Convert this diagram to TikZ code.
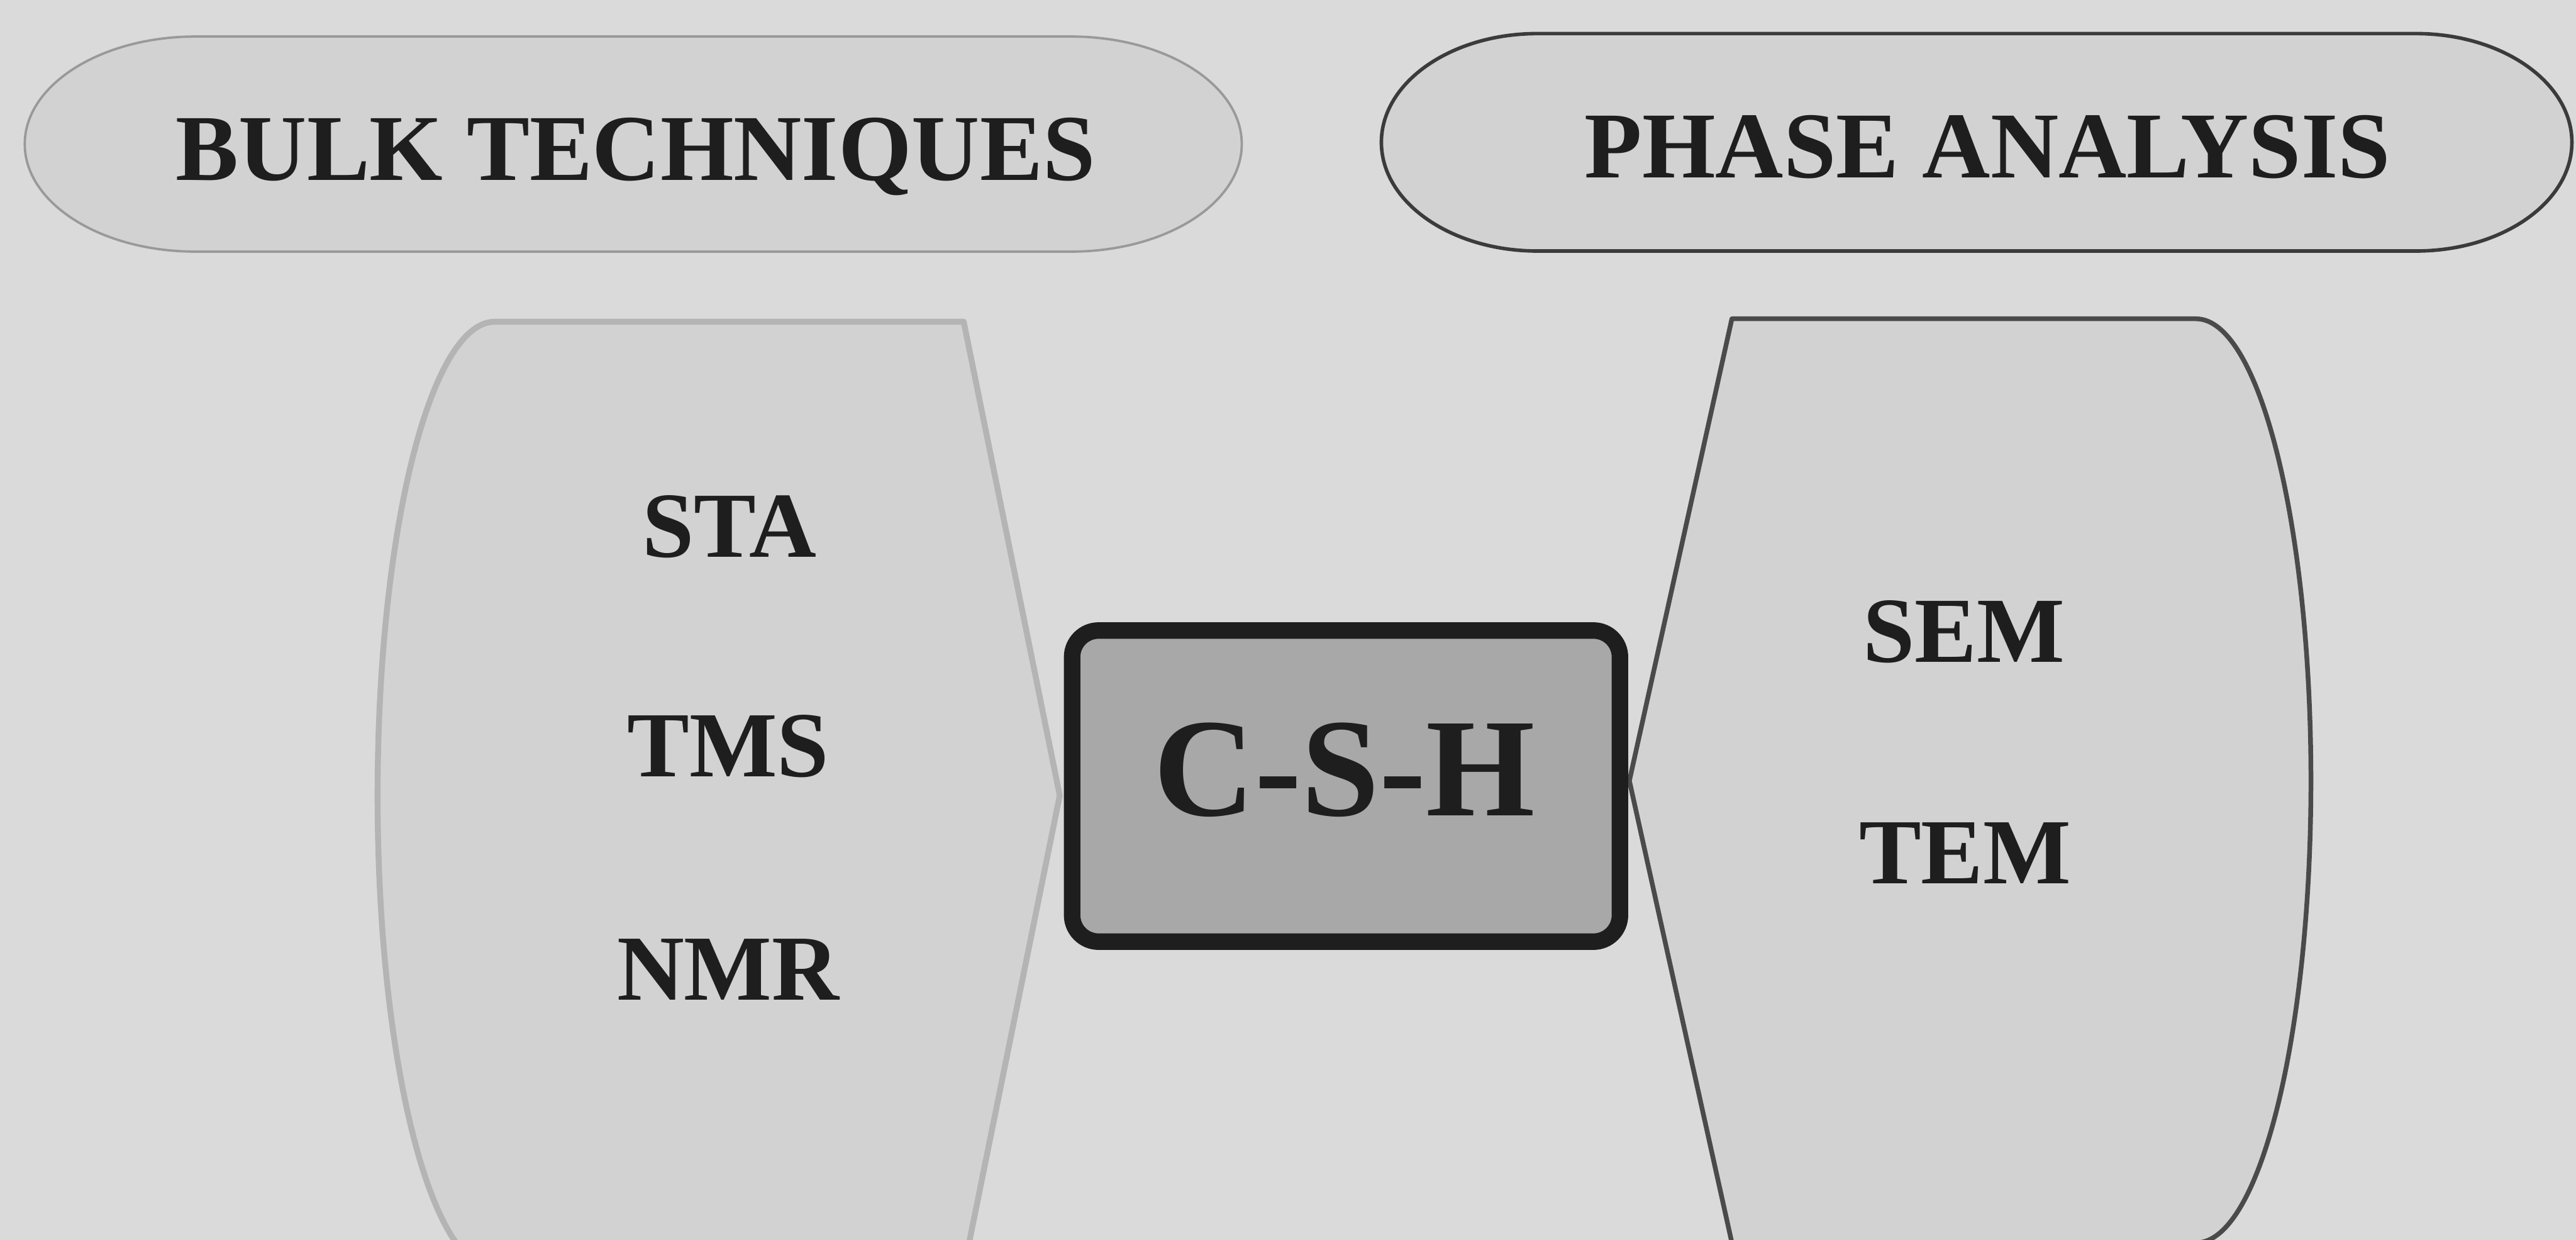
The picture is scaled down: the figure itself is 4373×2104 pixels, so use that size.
\documentclass[tikz,border=0pt]{standalone}
\usepackage{fontspec}
\setmainfont{Liberation Serif}
\definecolor{bgc}{HTML}{DADADA}
\definecolor{fillc}{HTML}{D2D2D2}
\definecolor{lightedge}{HTML}{B4B4B4}
\definecolor{darkedge}{HTML}{4A4A4A}
\definecolor{cshfill}{HTML}{A8A8A8}
\definecolor{inkc}{HTML}{1E1E1E}
\tikzset{
  headtext/.style={inner sep=0pt, anchor=base, text=inkc, font=\bfseries\fontsize{32}{38}\selectfont},
  itemtext/.style={inner sep=0pt, anchor=base, text=inkc, font=\bfseries\fontsize{31.6}{38}\selectfont},
  bigtext/.style={inner sep=0pt, anchor=base, text=inkc, font=\bfseries\fontsize{47.6}{56}\selectfont},
  lightshape/.style={fill=fillc, draw=lightedge, line width=2pt, line join=round},
  darkshape/.style={fill=fillc, draw=darkedge, line width=1.6pt, line join=round},
  cshbox/.style={draw=inkc, fill=cshfill, line width=5.6pt, rounded corners=9pt,
    minimum width=186pt, minimum height=105.6pt, inner sep=0pt}
}
\begin{document}
\begin{tikzpicture}[x=0.2pt,y=0.2pt]
\useasboundingbox (0,0) rectangle (4373,-2104);
\fill[bgc] (0,0) rectangle (4373,-2104);
\clip (0,0) rectangle (4373,-2104);
% top stadium shapes
\draw[fill=fillc, draw=lightedge!85!black, line width=0.8pt]
  (332,-62) -- (1818,-62) arc[start angle=90, end angle=-90, x radius=290, y radius=182.5]
  -- (332,-427) arc[start angle=270, end angle=90, x radius=290, y radius=182.5] -- cycle;
\draw[fill=fillc, draw=darkedge!80!black, line width=1.2pt]
  (2610,-57) -- (4101,-57) arc[start angle=90, end angle=-90, x radius=265, y radius=184.5]
  -- (2610,-426) arc[start angle=270, end angle=90, x radius=265, y radius=184.5] -- cycle;
\node[headtext] (bulk) at (1079,-306) {BULK TECHNIQUES};
\node[headtext] (phase) at (3374,-302) {PHASE ANALYSIS};
% left display shape
\draw[lightshape]
  (840,-546) -- (1636,-546) -- (1799,-1350) -- (1636,-2154) -- (840,-2154)
  arc[start angle=270, end angle=90, x radius=199, y radius=804] -- cycle;
% right display shape
\draw[darkshape]
  (2940,-541) -- (3728,-541) arc[start angle=90, end angle=-90, x radius=195, y radius=784]
  -- (2940,-2109) -- (2766,-1325) -- cycle;
\node[itemtext] (sta) at (1238,-945) {STA};
\node[itemtext] (tms) at (1236,-1318) {TMS};
\node[itemtext] (nmr) at (1236,-1697) {NMR};
\node[itemtext] (sem) at (3334,-1124) {SEM};
\node[itemtext] (tem) at (3336,-1500) {TEM};
% central box
\node[cshbox] (csh) at (2285,-1334) {};
\node[bigtext] (cshlabel) at (2282,-1384) {C-S-H};
\end{tikzpicture}
\end{document}
